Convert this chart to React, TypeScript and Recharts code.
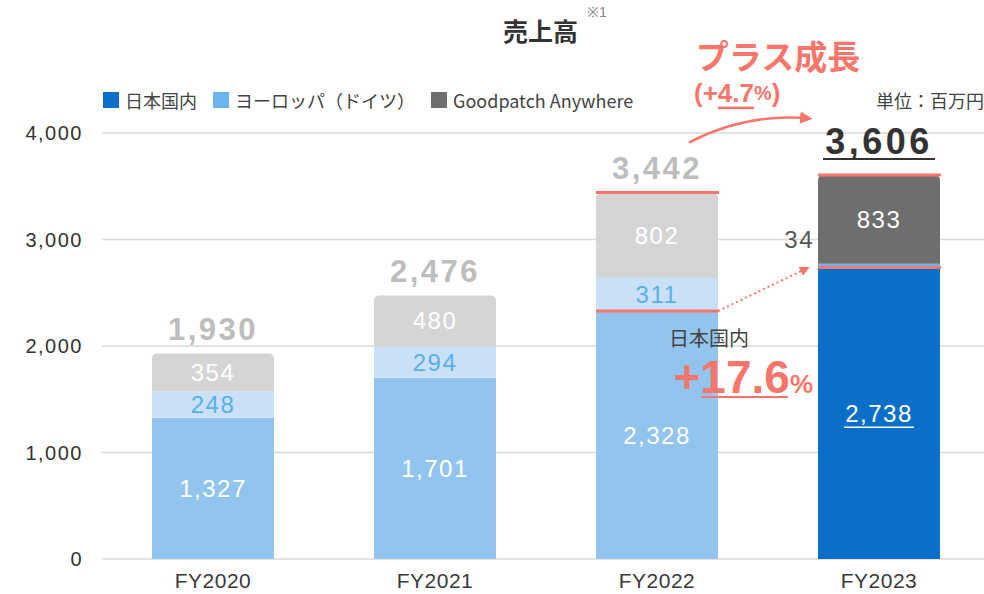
import { BarChart, Bar, XAxis, YAxis, CartesianGrid, LabelList, Cell } from 'recharts'

const years = ['FY2020', 'FY2021', 'FY2022', 'FY2023']
const japan = [1327, 1701, 2328, 2738]
const europe = [248, 294, 311, 34]
const anywhere = [354, 480, 802, 833]
const totals = [1930, 2476, 3442, 3606]
const yTicks = [0, 1000, 2000, 3000, 4000]

const seriesNames = ['日本国内', 'ヨーロッパ（ドイツ）', 'Goodpatch Anywhere']
const currentColors = ['#0A6FC8', '#6CB4EE', '#6E6E6E']
const pastColors = ['#92C4EE', '#C9E0F6', '#D5D5D5']

const data = years.map((year, i) => ({
  year,
  japan: japan[i],
  europe: europe[i],
  anywhere: anywhere[i],
}))

const FONT = '"Noto Sans CJK JP", "Noto Sans", sans-serif'
const NUM = '"Liberation Sans", Arial, sans-serif'
const RED = '#F7766B'
const fmt = (v: number) => v.toLocaleString('en-US')

const box = (props: any) => {
  const vb = props.viewBox && props.viewBox.width !== undefined ? props.viewBox : props
  return { x: Number(vb.x), y: Number(vb.y), width: Number(vb.width), height: Number(vb.height) }
}
const idxOf = (props: any, arr: number[]) =>
  typeof props.index === 'number' ? props.index : arr.indexOf(Number(props.value))

const colorFor = (i: number, s: number) => (i === years.length - 1 ? currentColors[s] : pastColors[s])

const JapanLabel = (props: any) => {
  const { x, y, width, height } = box(props)
  const i = idxOf(props, japan)
  const cx = x + width / 2
  const cy = y + height / 2
  return (
    <g>
      <text x={cx} y={cy} textAnchor="middle" dominantBaseline="central" fill="#fff" fontSize={24} letterSpacing={1.5} fontFamily={NUM}>
        {fmt(japan[i])}
      </text>
      {i === 3 && <line x1={cx - 35} x2={cx + 35} y1={cy + 14} y2={cy + 14} stroke="#fff" strokeWidth={1.5} />}
    </g>
  )
}

const EuropeLabel = (props: any) => {
  const { x, y, width, height } = box(props)
  const i = idxOf(props, europe)
  if (i === 3) {
    return (
      <text x={x - 4} y={y - 24} textAnchor="end" dominantBaseline="central" fill="#555" fontSize={24} letterSpacing={1.5} fontFamily={NUM}>
        {fmt(europe[i])}
      </text>
    )
  }
  return (
    <text x={x + width / 2} y={y + height / 2} textAnchor="middle" dominantBaseline="central" fill="#5AAFE8" fontSize={24} letterSpacing={1.5} fontFamily={NUM}>
      {fmt(europe[i])}
    </text>
  )
}

const AnywhereLabel = (props: any) => {
  const { x, y, width, height } = box(props)
  const i = idxOf(props, anywhere)
  const cx = x + width / 2
  const ppu = height / anywhere[i]
  const base = y + height + (japan[i] + europe[i]) * ppu
  const yOf = (v: number) => base - v * ppu
  const japanTop = yOf(japan[i])
  const current = i === years.length - 1
  return (
    <g fontFamily={FONT}>
      <text x={cx} y={y + height / 2} textAnchor="middle" dominantBaseline="central" fill="#fff" fontSize={24} letterSpacing={1.5} fontFamily={NUM}>
        {fmt(anywhere[i])}
      </text>
      <text
        x={cx}
        y={current ? y - 34 : y - 24}
        textAnchor="middle"
        dominantBaseline="central"
        fill={current ? '#333' : '#BDBDBD'}
        fontSize={current ? 36 : 31}
        letterSpacing={current ? 3.5 : 2.5}
        fontWeight="bold"
        fontFamily={NUM}
      >
        {fmt(totals[i])}
      </text>
      {current && <line x1={cx - 56} x2={cx + 56} y1={y - 16} y2={y - 16} stroke="#333" strokeWidth={2} />}
      {i >= 2 && (
        <>
          <line x1={x} x2={x + width + 1} y1={y} y2={y} stroke={RED} strokeWidth={3} />
          <line x1={x} x2={x + width + 1} y1={japanTop} y2={japanTop} stroke={RED} strokeWidth={3} />
        </>
      )}
      {i === 2 && (
        <>
          <line
            x1={x + width}
            y1={japanTop}
            x2={x + width + 90}
            y2={yOf(2772) + 4}
            stroke={RED}
            strokeWidth={2}
            strokeDasharray="2 3"
            markerEnd="url(#arrowRed)"
          />
          <path
            d={`M${x + 93},${y - 50} Q${x + 150},${y - 80} ${x + 214},${y - 74}`}
            fill="none"
            stroke={RED}
            strokeWidth={2.5}
            markerEnd="url(#arrowRed)"
          />
          <text x={x + 113} y={japanTop + 26} textAnchor="middle" dominantBaseline="central" fill="#444" fontSize={20}>
            日本国内
          </text>
          <text x={x + width + 95} y={japanTop + 82} textAnchor="end" fill={RED} fontWeight="bold" fontFamily={NUM}>
            <tspan fontSize={46}>+17.6</tspan>
            <tspan fontSize={26}>%</tspan>
          </text>
          <line x1={x + 105} x2={x + 192} y1={japanTop + 86} y2={japanTop + 86} stroke={RED} strokeWidth={2} />
          <text x={x + 182} y={y - 138} textAnchor="middle" dominantBaseline="central" fill={RED} fontSize={33} fontWeight="bold">
            プラス成長
          </text>
          <text x={x + 98} y={y - 100} textAnchor="start" dominantBaseline="central" fill={RED} fontWeight="bold" fontFamily={NUM}>
            <tspan fontSize={26}>(+</tspan>
            <tspan fontSize={26} textDecoration="underline">4.7</tspan>
            <tspan fontSize={20}>%</tspan>
            <tspan fontSize={26}>)</tspan>
          </text>
        </>
      )}
    </g>
  )
}

export default function App() {
  return (
    <div style={{ position: 'absolute', left: 0, top: 0, width: 984, height: 594, overflow: 'hidden', background: '#fff', fontFamily: FONT }}>
      <div style={{ position: 'absolute', left: 503, top: 13, fontSize: 25, fontWeight: 'bold', color: '#333', lineHeight: '34px' }}>
        売上高
      </div>
      <div style={{ position: 'absolute', left: 587, top: 3, fontSize: 14, color: '#888', fontFamily: NUM, lineHeight: '18px' }}>※1</div>
      <div style={{ position: 'absolute', left: 103, top: 87, display: 'flex', alignItems: 'center', fontSize: 18, color: '#444', lineHeight: '26px' }}>
        {seriesNames.map((name, s) => (
          <div key={name} style={{ display: 'flex', alignItems: 'center', marginRight: 16 }}>
            <span style={{ width: 16, height: 16, background: currentColors[s], marginRight: 6, display: 'inline-block' }} />
            {name}
          </div>
        ))}
      </div>
      <div style={{ position: 'absolute', right: 0, top: 87, fontSize: 18, color: '#444', lineHeight: '26px' }}>単位：百万円</div>
      <div style={{ position: 'absolute', left: 0, top: 0 }}>
        <BarChart width={990} height={594} data={data} margin={{ top: 133, right: 0, left: 0, bottom: 0 }}>
          <defs>
            <marker id="arrowRed" viewBox="0 0 10 10" refX="8" refY="5" markerWidth="5" markerHeight="5" orient="auto">
              <path d="M0,0 L10,5 L0,10 z" fill={RED} />
            </marker>
          </defs>
          <CartesianGrid vertical={false} stroke="#D9D9D9" strokeWidth={1.5} />
          <XAxis
            dataKey="year"
            height={35}
            axisLine={false}
            tickLine={false}
            tickMargin={8}
            tick={{ fontSize: 21, fill: '#3A3A3A', fontFamily: NUM, letterSpacing: 0.5 }}
          />
          <YAxis
            width={102}
            domain={[0, 4000]}
            ticks={yTicks}
            axisLine={false}
            tickLine={false}
            tickMargin={13}
            tickFormatter={fmt}
            tick={{ fontSize: 20, fill: '#333', fontFamily: NUM, letterSpacing: 1.5 }}
          />
          <Bar dataKey="japan" stackId="a" barSize={122} fill={currentColors[0]} isAnimationActive={false}>
            {data.map((d, i) => (
              <Cell key={d.year} fill={colorFor(i, 0)} />
            ))}
            <LabelList dataKey="japan" content={JapanLabel} />
          </Bar>
          <Bar dataKey="europe" stackId="a" barSize={122} fill={currentColors[1]} isAnimationActive={false}>
            {data.map((d, i) => (
              <Cell key={d.year} fill={colorFor(i, 1)} />
            ))}
            <LabelList dataKey="europe" content={EuropeLabel} />
          </Bar>
          <Bar dataKey="anywhere" stackId="a" barSize={122} fill={currentColors[2]} radius={[5, 5, 0, 0]} isAnimationActive={false}>
            {data.map((d, i) => (
              <Cell key={d.year} fill={colorFor(i, 2)} />
            ))}
            <LabelList dataKey="anywhere" content={AnywhereLabel} />
          </Bar>
        </BarChart>
      </div>
    </div>
  )
}
